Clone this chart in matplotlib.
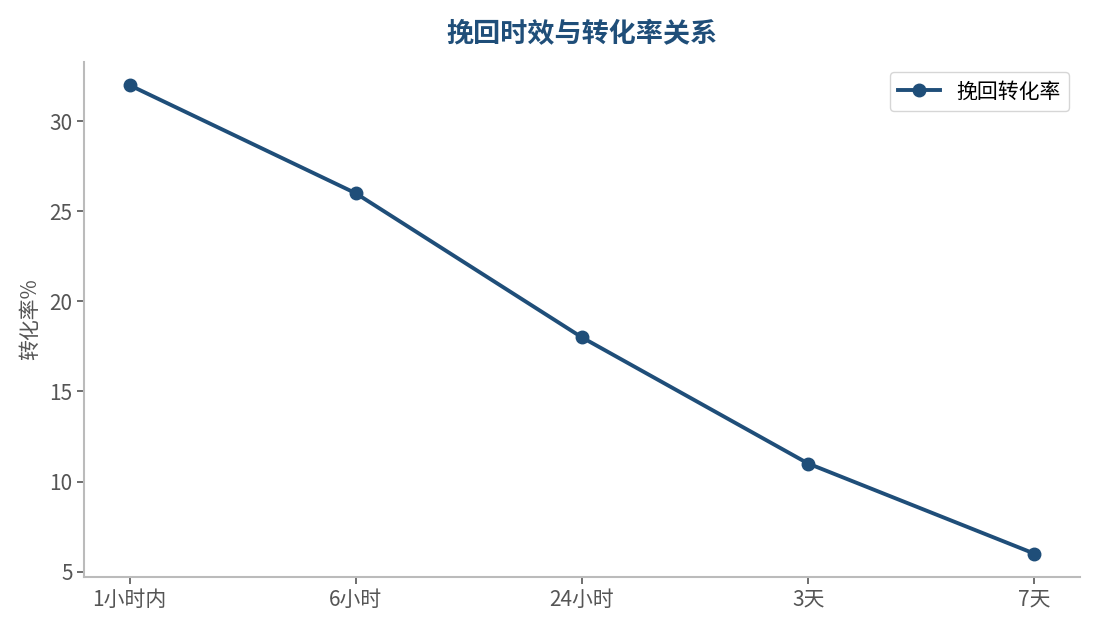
import matplotlib
matplotlib.use("Agg")
import matplotlib.pyplot as plt

plt.rcParams['font.family'] = ['Noto Sans CJK SC', 'DejaVu Sans']

# data
time_labels = ['1小时内', '6小时', '24小时', '3天', '7天']
conv_rate = [32, 26, 18, 11, 6]

main_color = '#1f4e79'
spine_color = '#bbbbbb'
text_color = '#555555'

fig, ax = plt.subplots(figsize=(10.95, 6.3), dpi=100)

x = list(range(len(time_labels)))
ax.plot(x, conv_rate, color=main_color, linewidth=2.8, marker='o', markersize=9,
        label='挽回转化率')

ax.set_xticks(x)
ax.set_xticklabels(time_labels)
ax.set_yticks([5, 10, 15, 20, 25, 30])

ax.set_title('挽回时效与转化率关系', fontsize=19.5, fontweight='bold', color=main_color, pad=14)
ax.set_ylabel('转化率%', fontsize=15, color=text_color, labelpad=6)

ax.spines['top'].set_visible(False)
ax.spines['right'].set_visible(False)
for s in ['left', 'bottom']:
    ax.spines[s].set_color(spine_color)
    ax.spines[s].set_linewidth(1.5)
ax.tick_params(colors=text_color, labelsize=15, length=5, width=1.2)

leg = ax.legend(loc='upper right', fontsize=15, frameon=True)
leg.get_frame().set_edgecolor('#cccccc')

fig.subplots_adjust(left=0.077, right=0.986, top=0.902, bottom=0.084)
fig.savefig('out.png', dpi=100)
